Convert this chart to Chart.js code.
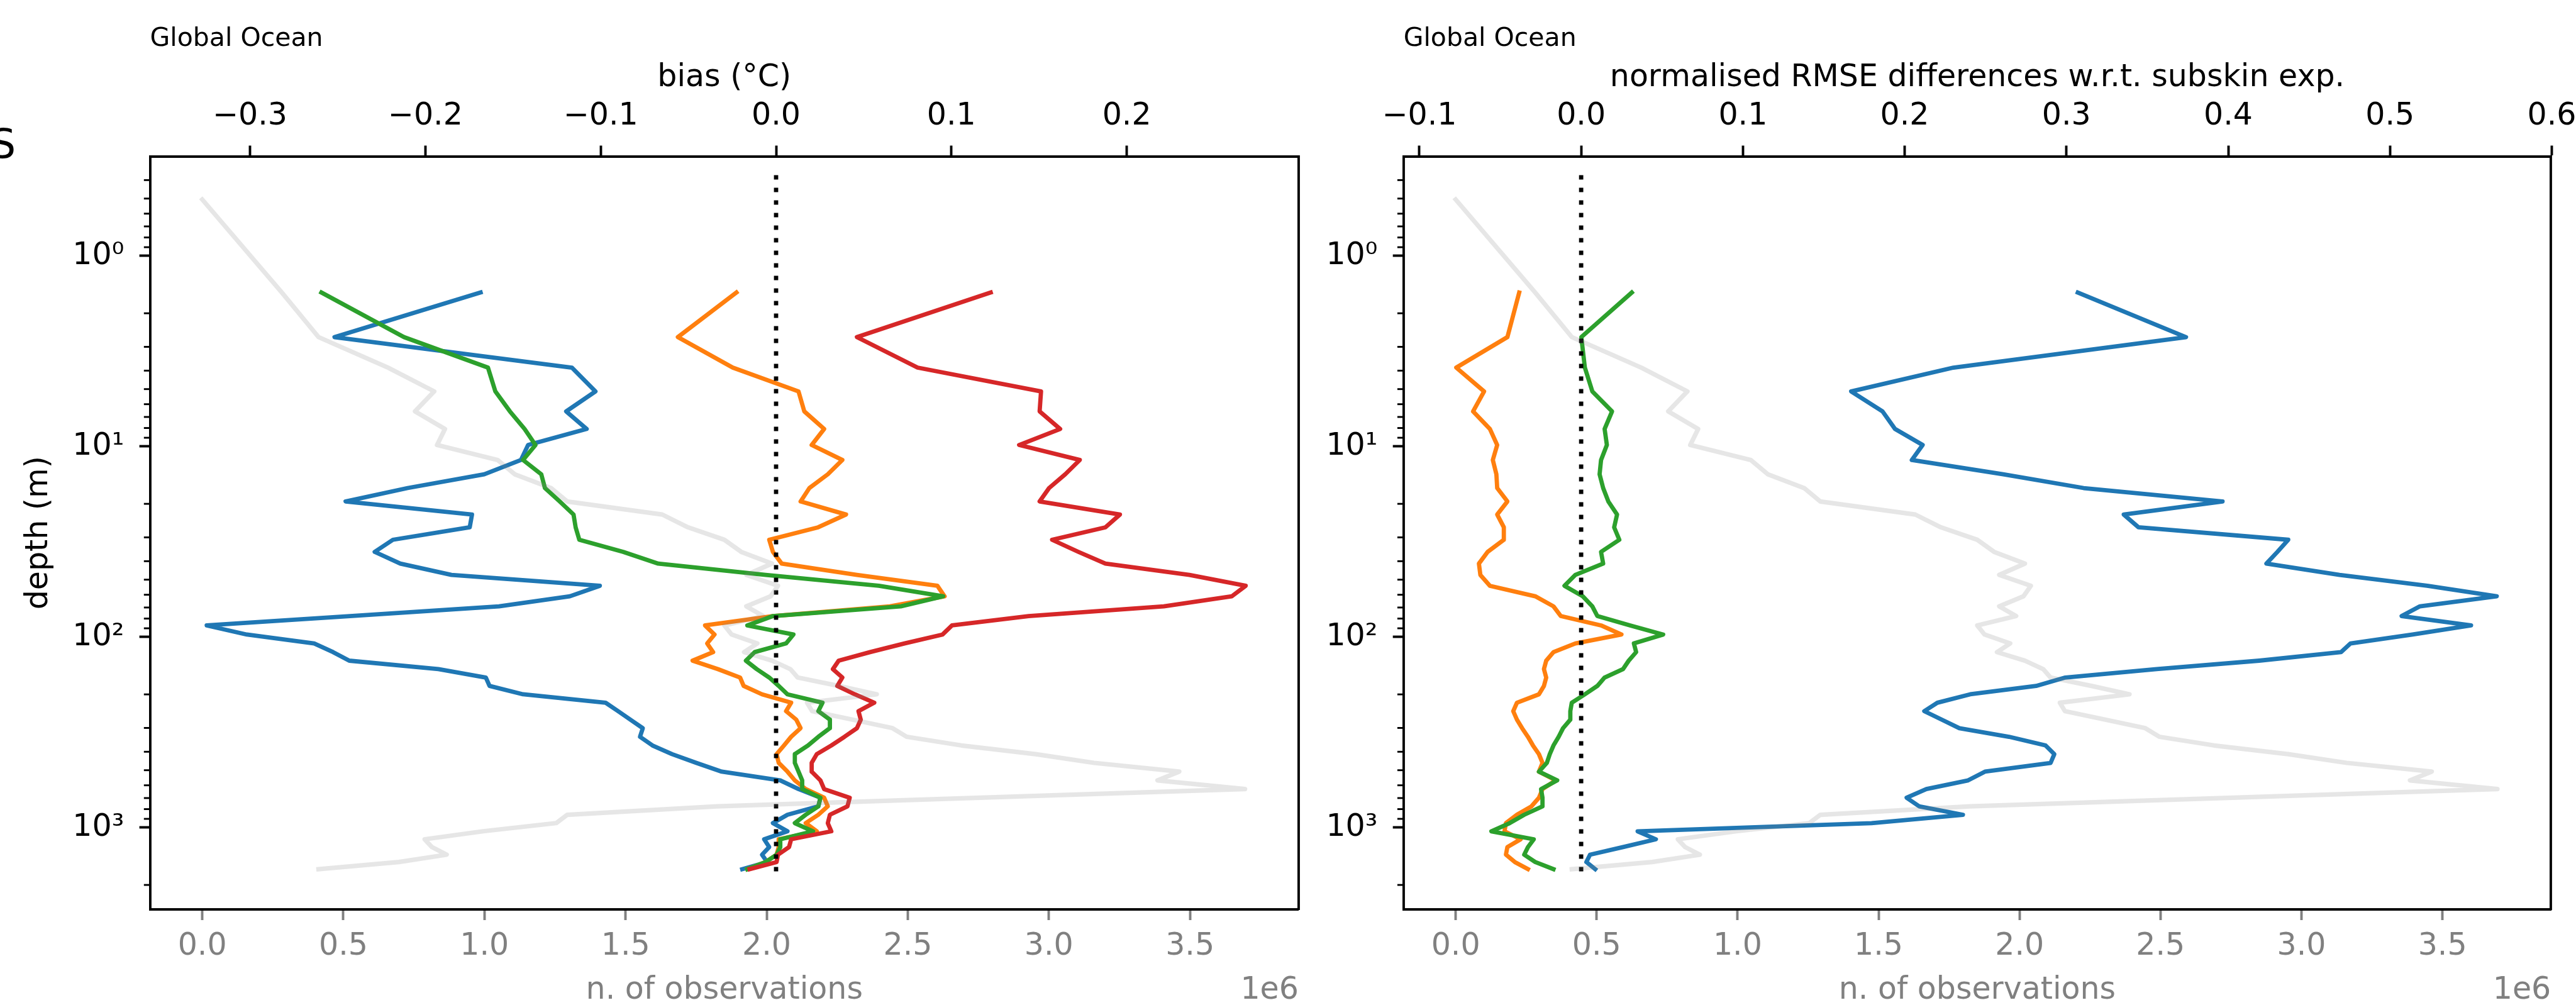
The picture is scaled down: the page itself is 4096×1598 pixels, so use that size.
<!DOCTYPE html>
<html>
<head>
<meta charset="utf-8">
<script src="https://cdn.jsdelivr.net/npm/chart.js@4.4.1/dist/chart.umd.min.js"></script>
<style>
  html, body { margin: 0; padding: 0; background: #fff; overflow: hidden; }
  #wrap { position: relative; width: 4096px; height: 1598px; overflow: hidden; }
  canvas { position: absolute; top: 0; }
  #cutS { position: absolute; left: -15.5px; top: 197px; font: 64px 'DejaVu Sans'; line-height: 1; color: #000; }
</style>
</head>
<body>
<div id="wrap">
  <canvas id="biasChart" width="2080" height="1598" style="left:0"></canvas>
  <canvas id="rmseChart" width="2060" height="1598" style="left:2080px"></canvas>
  <span id="cutS">S</span>
</div>
<script>
// model levels (m), first 52
var depthLevels = [0.5058, 1.5559, 2.6677, 3.8563, 5.1404, 6.5434, 8.0924, 9.8228, 11.7737, 13.9914,
  16.5253, 19.4298, 22.7576, 26.5583, 30.8746, 35.7402, 41.18, 47.2119, 53.8506, 61.1128,
  69.0217, 77.6112, 86.9294, 97.0413, 108.0303, 120.0, 133.0758, 147.4062, 163.1645, 180.5499,
  199.79, 221.1412, 244.8906, 271.3564, 300.8875, 333.8628, 370.6885, 411.7939, 457.6256, 508.6399,
  565.2923, 628.026, 697.2587, 773.3683, 856.679, 947.4479, 1045.854, 1151.991, 1265.861, 1387.377,
  1516.364, 1652.568];
var expDepths = depthLevels.slice(1);   // the experiments start at the 2nd level

// n. of observations (x 1e6), one per level
var nObs = [0.0, 0.282, 0.412, 0.658, 0.822, 0.754, 0.860, 0.832, 1.047, 1.107,
  1.236, 1.293, 1.630, 1.721, 1.850, 1.910, 2.019, 1.928, 2.040, 2.014,
  1.928, 1.988, 1.850, 1.876, 1.967, 1.920, 2.019, 2.084, 2.110, 2.255,
  2.390, 2.143, 2.161, 2.304, 2.446, 2.496, 2.690, 2.953, 3.160, 3.462,
  3.385, 3.695, 2.757, 1.824, 1.293, 1.254, 0.995, 0.788, 0.814, 0.866,
  0.697, 0.412];

// bias (degC)
var biasBlue = [-0.1685, -0.2518, -0.1164, -0.1030, -0.1197, -0.1080, -0.1414, -0.1455, -0.1664,
  -0.2101, -0.2455, -0.1734, -0.1747, -0.2185, -0.2289, -0.2143, -0.1851, -0.1005, -0.1176,
  -0.1580, -0.2430, -0.3247, -0.3018, -0.2634, -0.2526, -0.2434, -0.1926, -0.1655, -0.1634,
  -0.1443, -0.0972, -0.0901, -0.0831, -0.0760, -0.0776, -0.0705, -0.0593, -0.0455, -0.0310,
  0.0024, 0.0128, 0.0253, 0.0241, 0.0065, -0.0018, 0.0065, -0.0068, -0.0039, -0.0080,
  -0.0051, -0.0193];
var biasOrange = [-0.0226, -0.0560, -0.0247, 0.0128, 0.0161, 0.0274, 0.0203, 0.0378, 0.0295,
  0.0190, 0.0140, 0.0399, 0.0240, -0.0039, -0.0018, 0.0032, 0.0461, 0.0920, 0.0961,
  0.0649, -0.0018, -0.0405, -0.0351, -0.0393, -0.0359, -0.0476, -0.0331, -0.0205, -0.0185,
  -0.0080, 0.0086, 0.0057, 0.0115, 0.0140, 0.0086, 0.0045, 0.0003, 0.0015, 0.0065,
  0.0107, 0.0169, 0.0274, 0.0295, 0.0241, 0.0169, 0.0232, 0.0015, 0.0015, 0.0003,
  -0.0059, -0.0164];
var biasGreen = [-0.2593, -0.2122, -0.1643, -0.1601, -0.1518, -0.1434, -0.1372, -0.1443, -0.1339,
  -0.1318, -0.1234, -0.1155, -0.1143, -0.1122, -0.0872, -0.0672, -0.0059, 0.0586, 0.0953,
  0.0711, -0.0018, -0.0164, 0.0099, 0.0057, -0.0122, -0.0172, -0.0110, -0.0039, 0.0015,
  0.0065, 0.0265, 0.0241, 0.0307, 0.0307, 0.0241, 0.0182, 0.0107, 0.0107, 0.0128,
  0.0149, 0.0149, 0.0253, 0.0241, 0.0169, 0.0107, 0.0211, 0.0024, 0.0024, 0.0003,
  -0.0059, -0.0164];
var biasRed = [0.1224, 0.0461, 0.0807, 0.1511, 0.1503, 0.1620, 0.1386, 0.1732, 0.1649,
  0.1557, 0.1503, 0.1961, 0.1878, 0.1574, 0.1724, 0.1878, 0.2357, 0.2678, 0.2599,
  0.2211, 0.1440, 0.1003, 0.0949, 0.0732, 0.0536, 0.0357, 0.0324, 0.0378, 0.0349,
  0.0449, 0.0560, 0.0470, 0.0483, 0.0461, 0.0390, 0.0315, 0.0232, 0.0203, 0.0203,
  0.0253, 0.0274, 0.0420, 0.0407, 0.0307, 0.0295, 0.0315, 0.0086, 0.0074, 0.0011,
  0.0003, -0.0151];

// normalised RMSE differences w.r.t. subskin exp.
var rmseBlue = [0.3070, 0.3739, 0.2301, 0.1669, 0.1863, 0.1940, 0.2111, 0.2044, 0.2609,
  0.3106, 0.3965, 0.3354, 0.3445, 0.4371, 0.4304, 0.4236, 0.4688, 0.5230, 0.5660,
  0.5185, 0.5072, 0.5501, 0.5140, 0.4756, 0.4697, 0.4191, 0.3558, 0.2993, 0.2812,
  0.2405, 0.2202, 0.2121, 0.2229, 0.2338, 0.2645, 0.2871, 0.2925, 0.2902, 0.2496,
  0.2392, 0.2134, 0.2012, 0.2089, 0.2360, 0.1795, 0.0349, 0.0462, 0.0259, 0.0055,
  0.0032, 0.0087];
var rmseOrange = [-0.0383, -0.0456, -0.0772, -0.0600, -0.0668, -0.0564, -0.0519, -0.0546, -0.0524,
  -0.0519, -0.0456, -0.0519, -0.0478, -0.0478, -0.0578, -0.0632, -0.0623, -0.0564, -0.0284,
  -0.0171, -0.0126, 0.0123, 0.0249, -0.0036, -0.0171, -0.0216, -0.0230, -0.0216, -0.0230,
  -0.0261, -0.0397, -0.0420, -0.0397, -0.0365, -0.0329, -0.0298, -0.0261, -0.0239, -0.0261,
  -0.0157, -0.0239, -0.0261, -0.0307, -0.0397, -0.0465, -0.0474, -0.0374, -0.0456, -0.0465,
  -0.0410, -0.0329];
var rmseGreen = [0.0313, 0.0001, 0.0023, 0.0069, 0.0191, 0.0145, 0.0159, 0.0123, 0.0114,
  0.0136, 0.0168, 0.0222, 0.0204, 0.0236, 0.0123, 0.0136, -0.0036, -0.0103, 0.0010,
  0.0069, 0.0100, 0.0303, 0.0507, 0.0326, 0.0340, 0.0294, 0.0259, 0.0145, 0.0100,
  0.0023, -0.0058, -0.0067, -0.0067, -0.0112, -0.0139, -0.0171, -0.0194, -0.0212, -0.0261,
  -0.0148, -0.0248, -0.0239, -0.0239, -0.0352, -0.0442, -0.0555, -0.0293, -0.0329, -0.0352,
  -0.0284, -0.0171];

// dotted zero line, depth span
var zeroLineDepth = [0.3765, 1715];

// ticks
var biasTicks = [-0.3, -0.2, -0.1, 0.0, 0.1, 0.2];
var rmseTicks = [-0.1, 0.0, 0.1, 0.2, 0.3, 0.4, 0.5, 0.6];
var obsTicks = [0.0, 0.5, 1.0, 1.5, 2.0, 2.5, 3.0, 3.5];
var depthTicks = [1, 10, 100, 1000];
var depthTickLabels = ['10\u2070', '10\u00b9', '10\u00b2', '10\u00b3'];
var depthMinorTicks = [0.4, 0.5, 0.6, 0.7, 0.8, 0.9, 2, 3, 4, 5, 6, 7, 8, 9, 20, 30, 40, 50, 60, 70, 80, 90,
  200, 300, 400, 500, 600, 700, 800, 900, 2000];

var C_BLUE = '#1f77b4', C_ORANGE = '#ff7f0e', C_GREEN = '#2ca02c', C_RED = '#d62728';
var C_OBS = 'rgba(128,128,128,0.2)';
var FS = 49;

Chart.defaults.font.family = "'DejaVu Sans', sans-serif";
Chart.defaults.font.size = FS;
Chart.defaults.color = '#000';

function fmt(v) {
  var s = Math.abs(v).toFixed(1);
  return v < -1e-9 ? '\u2212' + s : s;
}

function profile(values, depths) {
  return values.map(function (v, i) { return {x: v, y: depths[i]}; });
}

function lineSet(values, depths, color, axis, width) {
  return {
    data: profile(values, depths), xAxisID: axis, yAxisID: 'y',
    borderColor: color, borderWidth: width, pointRadius: 0, fill: false,
    borderJoinStyle: 'round', borderCapStyle: 'square'
  };
}

// minor depth ticks, "Global Ocean" and the 1e6 offset text
var extras = {
  id: 'extras',
  afterDraw: function (chart) {
    var ctx = chart.ctx, area = chart.chartArea, ys = chart.scales.y;
    ctx.save();
    ctx.strokeStyle = '#000';
    ctx.lineWidth = 2.9;
    depthMinorTicks.forEach(function (d) {
      var py = ys.getPixelForValue(d);
      ctx.beginPath();
      ctx.moveTo(area.left - 9.8, py);
      ctx.lineTo(area.left, py);
      ctx.stroke();
    });
    ctx.fillStyle = '#000';
    ctx.textBaseline = 'alphabetic';
    ctx.textAlign = 'left';
    ctx.font = "41px 'DejaVu Sans'";
    ctx.fillText('Global Ocean', area.left, 73.3);
    ctx.fillStyle = 'grey';
    ctx.textAlign = 'right';
    ctx.font = FS + "px 'DejaVu Sans'";
    ctx.fillText('1e6', area.right, 1587.7);
    ctx.restore();
  }
};

function makeChart(id, cfg) {
  var scales = {
    xTop: {
      type: 'linear', position: 'top', min: cfg.min, max: cfg.max,
      afterBuildTicks: function (s) { s.ticks = cfg.ticks.map(function (v) { return {value: v}; }); },
      afterFit: function (s) { s.height = 248.5; },
      ticks: { color: '#000', padding: 17.3, autoSkip: false, maxRotation: 0, minRotation: 0,
        callback: function (v) { return fmt(v); } },
      grid: { drawOnChartArea: false, tickLength: 17, tickWidth: 3.9, tickColor: '#000' },
      border: { color: '#000', width: 3.9 },
      title: { display: true, text: cfg.title, color: '#000', padding: {top: 95.3, bottom: 0} }
    },
    xObs: {
      type: 'linear', position: 'bottom', min: -0.185, max: 3.885,
      afterBuildTicks: function (s) { s.ticks = obsTicks.map(function (v) { return {value: v}; }); },
      afterFit: function (s) { s.height = 152; },
      ticks: { color: 'grey', padding: 12.6, autoSkip: false, maxRotation: 0, minRotation: 0,
        callback: function (v) { return v.toFixed(1); } },
      grid: { drawOnChartArea: false, tickLength: 17, tickWidth: 3.9, tickColor: 'grey' },
      border: { color: '#000', width: 3.9 },
      title: { display: true, text: 'n. of observations', color: 'grey', padding: {top: 0, bottom: -6.6} }
    },
    y: {
      type: 'logarithmic', position: 'left', reverse: true, min: 0.3404, max: 2688,
      afterBuildTicks: function (s) { s.ticks = depthTicks.map(function (v) { return {value: v}; }); },
      afterFit: function (s) { s.width = cfg.yWidth; },
      ticks: { color: '#000', padding: 24.3, autoSkip: false,
        callback: function (v, i) { return depthTickLabels[i]; } },
      grid: { drawOnChartArea: false, tickLength: 17, tickWidth: 3.9, tickColor: '#000' },
      border: { color: '#000', width: 3.9 },
      title: { display: cfg.yTitle, text: 'depth (m)', color: '#000', padding: {top: 33, bottom: 0} }
    },
    yEdge: {
      type: 'linear', position: 'right',
      afterFit: function (s) { s.width = 0; },
      ticks: { display: false },
      grid: { drawOnChartArea: false, drawTicks: false },
      border: { color: '#000', width: 3.9 }
    }
  };

  return new Chart(document.getElementById(id), {
    type: 'line',
    data: { datasets: cfg.datasets },
    options: {
      responsive: false, animation: false, devicePixelRatio: 1, events: [],
      layout: { padding: { left: 0, top: 0, bottom: 0, right: cfg.padRight } },
      plugins: { legend: { display: false }, tooltip: { enabled: false } },
      scales: scales
    },
    plugins: [extras]
  });
}

// the first dataset is drawn on top
var zeroLine = {
  data: profile([0, 0], zeroLineDepth), xAxisID: 'xTop', yAxisID: 'y',
  borderColor: '#000', borderWidth: 6.8, borderDash: [7.2, 12.8], borderCapStyle: 'butt',
  pointRadius: 0, fill: false
};

makeChart('biasChart', {
  min: -0.357, max: 0.298, ticks: biasTicks, title: 'bias (\u00b0C)',
  yWidth: 238.6, yTitle: true, padRight: 15.1,
  datasets: [
    lineSet(nObs, depthLevels, C_OBS, 'xObs', 7.2),
    zeroLine,
    lineSet(biasRed, expDepths, C_RED, 'xTop', 6.8),
    lineSet(biasGreen, expDepths, C_GREEN, 'xTop', 6.8),
    lineSet(biasOrange, expDepths, C_ORANGE, 'xTop', 6.8),
    lineSet(biasBlue, expDepths, C_BLUE, 'xTop', 6.8)
  ]
});

makeChart('rmseChart', {
  min: -0.1098, max: 0.5995, ticks: rmseTicks, title: 'normalised RMSE differences w.r.t. subskin exp.',
  yWidth: 151.7, yTitle: false, padRight: 83.8,
  datasets: [
    lineSet(nObs, depthLevels, C_OBS, 'xObs', 7.2),
    Object.assign({}, zeroLine, { data: profile([0, 0], zeroLineDepth) }),
    lineSet(rmseGreen, expDepths, C_GREEN, 'xTop', 6.8),
    lineSet(rmseOrange, expDepths, C_ORANGE, 'xTop', 6.8),
    lineSet(rmseBlue, expDepths, C_BLUE, 'xTop', 6.8)
  ]
});
</script>
</body>
</html>
